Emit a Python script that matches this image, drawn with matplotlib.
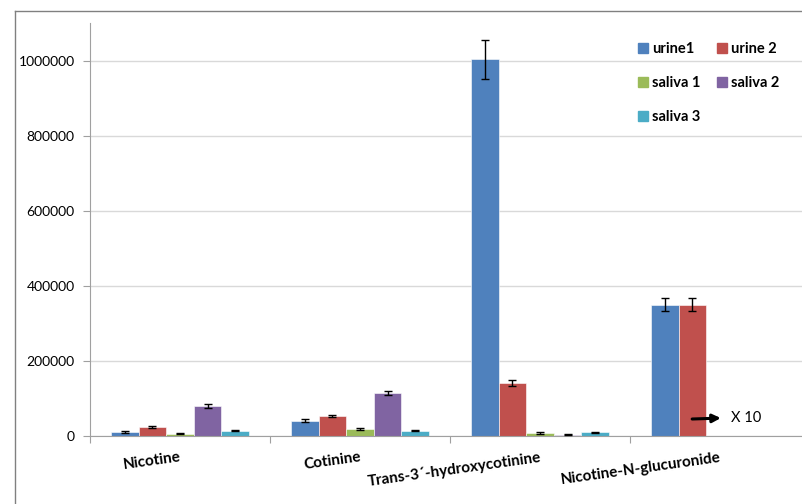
import numpy as np
import matplotlib.pyplot as plt
from matplotlib.lines import Line2D

categories = ['Nicotine', 'Cotinine', "Trans-3\u00b4-hydroxycotinine", 'Nicotine-N-glucuronide']
series = ['urine1', 'urine 2', 'saliva 1', 'saliva 2', 'saliva 3']
colors = ['#4F81BD', '#C0504D', '#9BBB59', '#8064A2', '#4BACC6']

# mean peak area per sample (nan = not measured)
urine1 = [10000, 40000, 1003000, 350000]
urine2 = [24000, 53000, 141000, 350000]
saliva1 = [6000, 19000, 8000, np.nan]
saliva2 = [80000, 115000, 3000, np.nan]
saliva3 = [14000, 14000, 10000, np.nan]

urine1_err = [2000, 4000, 52000, 18000]
urine2_err = [2000, 3000, 8000, 18000]
saliva1_err = [1500, 2000, 1500, np.nan]
saliva2_err = [5000, 6000, 1000, np.nan]
saliva3_err = [1500, 2000, 1500, np.nan]

values = [urine1, urine2, saliva1, saliva2, saliva3]
errors = [urine1_err, urine2_err, saliva1_err, saliva2_err, saliva3_err]

fig = plt.figure(figsize=(8.02, 5.04), dpi=100)
ax = fig.add_axes([90 / 802, 68 / 504, 720 / 802, 413 / 504])

x = np.arange(len(categories))
w = 0.1533
for i, (vals, errs) in enumerate(zip(values, errors)):
    vals = np.array(vals, dtype=float)
    errs = np.array(errs, dtype=float)
    ok = ~np.isnan(vals)
    pos = x[ok] + (i - 2) * w
    ax.bar(pos, vals[ok], w, color=colors[i], edgecolor='white', linewidth=0.4, zorder=2)
    ax.errorbar(pos, vals[ok], yerr=errs[ok], fmt='none', ecolor='black',
                elinewidth=1, capsize=3, capthick=1, zorder=3)

ax.set_xlim(-0.5, 3.5)
ax.set_ylim(0, 1100000)
ax.set_yticks(np.arange(0, 1000001, 200000))
ax.set_yticklabels([str(v) for v in range(0, 1000001, 200000)], fontsize=10, family='Lato')
ax.yaxis.grid(True, color='#d9d9d9', linewidth=1)
ax.set_axisbelow(True)

ax.set_xticks(np.arange(-0.5, 3.6, 1))
ax.set_xticklabels([])
ax.tick_params(axis='x', length=5, color='#a0a0a0', direction='out')
ax.tick_params(axis='y', length=5, color='#a0a0a0', direction='out', pad=6)
for side in ['top', 'right']:
    ax.spines[side].set_visible(False)
for side in ['left', 'bottom']:
    ax.spines[side].set_color('#a0a0a0')

for i, name in enumerate(categories):
    ax.text(i, -38000, name, rotation=8, rotation_mode='anchor', ha='right', va='top',
            fontsize=11, fontweight='bold', family='Lato', transform=ax.transData)

# multiplication note for the glucuronide group
ax.annotate('', xy=(3.02, 48000), xytext=(2.83, 45000),
            arrowprops=dict(arrowstyle='-|>', color='black', lw=2.2, mutation_scale=12))
ax.text(3.06, 48000, 'X 10', fontsize=10.5, family='Lato', va='center', ha='left')

handles = [Line2D([], [], marker='s', linestyle='none', markersize=7,
                  markerfacecolor=c, markeredgecolor=c) for c in colors]
order = [0, 2, 4, 1, 3]
ax.legend([handles[k] for k in order], [series[k] for k in order], ncol=2,
          loc='upper left', bbox_to_anchor=(0.74, 0.985), frameon=False,
          prop={'family': 'Lato', 'weight': 'bold', 'size': 10.5},
          handletextpad=0.1, columnspacing=1.0, labelspacing=1.35, handlelength=1.0)

# chart area border
fig.add_artist(Line2D([15 / 802, 15 / 802], [0, 1 - 11 / 504], color='#808080', lw=1))
fig.add_artist(Line2D([15 / 802, 1], [1 - 11 / 504, 1 - 11 / 504], color='#808080', lw=1))

fig.savefig('out.png', dpi=100)
